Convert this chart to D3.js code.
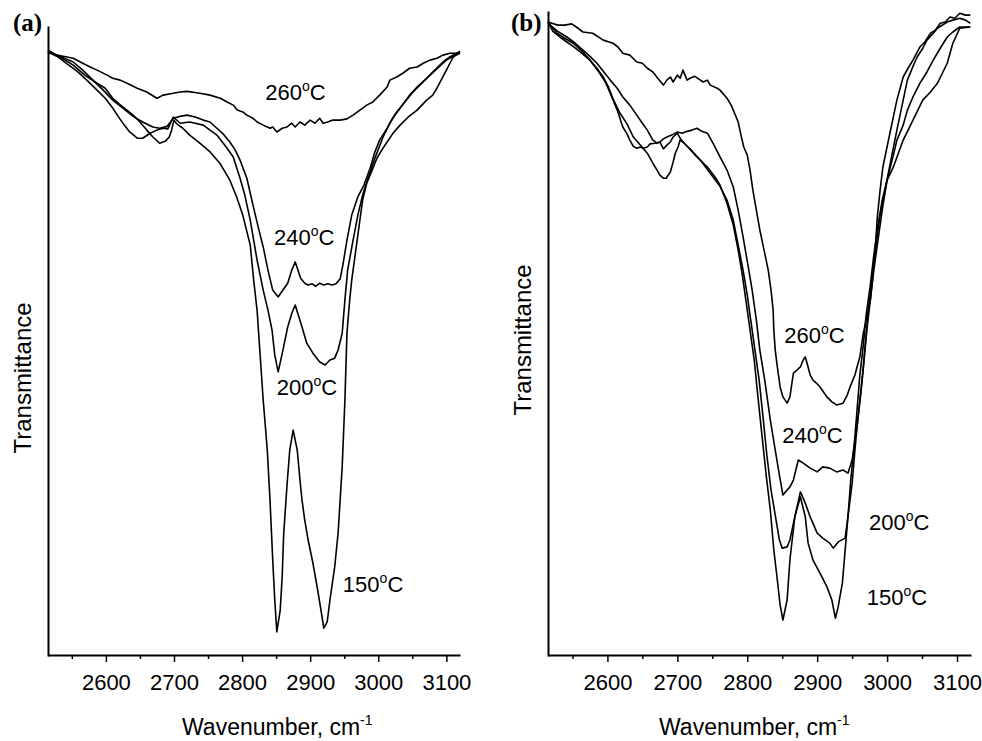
<!DOCTYPE html>
<meta charset="utf-8">

<script src="https://d3js.org/d3.v7.min.js"></script>

<div id="chart"></div>

<style>
body {
  margin: 0;
  background: #fff;
}
text {
  font-family: Arial, "Liberation Sans", sans-serif;
  fill: #000;
}
.spectrum {
  fill: none;
  stroke: #000;
  stroke-width: 1.6px;
  stroke-linejoin: round;
}
</style>

<script>

// spectra as [wavenumber (cm-1), transmittance (arb. units)]
// panel (a)
var a150 = [[2515,96.5],[2533,95.7],[2552,94.4],[2569,92.8],[2584,91.7],[2599,90.7],[2610,89.1],[2625,87.7],[2640,86.4],[2650,85.3],[2660,84.0],[2669,82.9],[2679,81.9],[2687,82.2],[2693,82.9],[2696,83.8],[2700,85.6],[2704,85.0],[2713,84.3],[2723,83.2],[2738,81.9],[2753,80.5],[2768,78.6],[2782,76.0],[2792,73.3],[2801,70.4],[2812,65.6],[2817,60.0],[2822,55.2],[2826,48.8],[2831,40.8],[2837,32.8],[2841,24.8],[2845,15.2],[2848,8.8],[2851,3.7],[2856,7.2],[2859,12.8],[2861,19.2],[2866,27.2],[2870,32.8],[2875,36.0],[2881,32.8],[2885,28.0],[2888,24.8],[2892,21.6],[2897,18.4],[2904,14.7],[2911,10.4],[2917,6.4],[2920,4.3],[2925,5.3],[2929,8.8],[2936,14.1],[2941,19.5],[2947,30.1],[2951,40.8],[2954,51.5],[2958,56.8],[2961,60.0],[2969,66.4],[2977,72.8],[2983,75.5],[2991,77.6],[2998,79.5],[3005,80.8],[3013,82.1],[3021,83.4],[3032,84.8],[3044,86.1],[3057,87.2],[3071,88.8],[3080,89.6],[3086,90.7],[3090,91.5],[3100,93.6],[3110,95.7],[3120,96.5]];

var a200 = [[2515,96.5],[2530,95.7],[2543,94.6],[2558,93.4],[2572,92.0],[2587,90.4],[2599,89.1],[2609,87.7],[2618,86.2],[2627,84.8],[2635,83.7],[2646,82.7],[2654,82.7],[2665,83.5],[2675,84.0],[2684,84.3],[2691,84.2],[2699,86.1],[2709,85.1],[2723,85.3],[2743,84.8],[2763,83.2],[2778,81.1],[2787,79.7],[2797,76.3],[2804,73.6],[2812,69.6],[2822,63.2],[2831,58.4],[2838,55.2],[2844,52.0],[2848,48.0],[2853,45.3],[2860,48.8],[2867,52.5],[2873,54.7],[2878,56.0],[2884,53.9],[2888,52.5],[2895,49.9],[2904,48.3],[2914,46.9],[2922,46.4],[2929,47.2],[2936,47.5],[2941,48.8],[2947,51.5],[2951,56.8],[2955,61.6],[2963,66.4],[2970,70.4],[2977,73.6],[2985,76.3],[2995,79.5],[3007,82.9],[3017,85.1],[3027,86.9],[3039,88.5],[3051,90.1],[3064,91.5],[3076,92.8],[3090,94.2],[3100,95.2],[3110,95.8],[3120,96.3]];

var a240 = [[2515,96.5],[2533,95.8],[2552,94.9],[2566,93.6],[2581,92.0],[2596,90.4],[2610,88.8],[2625,87.5],[2640,86.2],[2654,85.3],[2669,84.5],[2679,84.3],[2690,84.6],[2699,85.9],[2709,86.2],[2719,86.4],[2731,86.1],[2743,85.6],[2753,85.3],[2763,84.3],[2772,83.4],[2782,82.1],[2790,80.8],[2797,79.2],[2807,76.3],[2816,72.0],[2823,68.8],[2831,65.3],[2838,61.6],[2845,58.4],[2853,57.3],[2860,58.4],[2867,59.5],[2873,61.6],[2878,62.9],[2882,61.6],[2886,60.3],[2892,59.5],[2897,59.2],[2903,59.4],[2908,59.0],[2914,59.5],[2920,59.2],[2926,59.4],[2932,59.2],[2938,59.4],[2944,60.2],[2948,62.4],[2954,66.4],[2961,70.4],[2970,73.3],[2979,75.2],[2988,77.9],[2995,80.5],[3002,82.4],[3013,84.3],[3021,85.9],[3032,87.5],[3046,89.6],[3058,91.0],[3071,92.3],[3083,93.6],[3095,94.9],[3105,95.7],[3115,96.3],[3120,96.5]];

var a260 = [[2515,96.8],[2528,96.0],[2543,95.7],[2552,95.5],[2566,94.7],[2577,94.1],[2587,93.6],[2602,92.8],[2610,92.3],[2621,92.0],[2631,91.5],[2646,90.7],[2660,90.1],[2675,89.1],[2684,89.6],[2699,89.9],[2709,90.1],[2719,90.2],[2738,89.9],[2753,89.6],[2768,89.1],[2778,88.5],[2787,88.0],[2793,87.2],[2801,86.9],[2807,86.4],[2816,85.9],[2822,85.3],[2831,84.8],[2837,84.5],[2841,84.3],[2845,84.5],[2851,83.7],[2859,84.3],[2866,84.5],[2873,85.1],[2878,84.5],[2885,85.3],[2892,84.8],[2900,85.6],[2907,85.1],[2914,85.9],[2919,85.1],[2926,85.3],[2933,85.6],[2944,85.6],[2954,85.8],[2963,86.4],[2973,87.2],[2983,88.0],[2992,88.5],[3002,89.6],[3013,90.9],[3017,92.0],[3027,92.5],[3036,93.1],[3046,93.9],[3057,94.1],[3066,94.7],[3076,95.2],[3086,95.5],[3095,96.0],[3105,96.3],[3115,96.3],[3120,96.6]];

// panel (b)
var b150 = [[2515,101.3],[2522,99.8],[2532,98.9],[2542,98.1],[2551,97.4],[2561,96.5],[2575,95.2],[2585,93.9],[2594,92.5],[2601,91.0],[2608,89.0],[2618,86.7],[2628,85.0],[2637,82.9],[2647,81.6],[2657,80.3],[2665,78.7],[2671,77.6],[2675,76.8],[2680,76.3],[2684,76.3],[2690,77.3],[2694,78.9],[2697,80.3],[2701,81.3],[2704,82.4],[2708,82.1],[2715,81.3],[2728,79.7],[2743,78.1],[2757,76.0],[2761,75.2],[2771,72.3],[2780,68.8],[2787,64.8],[2793,60.8],[2798,56.8],[2804,52.0],[2810,47.2],[2815,41.6],[2821,35.2],[2827,28.8],[2833,23.2],[2838,16.8],[2843,12.0],[2847,8.0],[2851,5.6],[2857,8.8],[2861,15.2],[2868,22.1],[2876,25.3],[2883,22.1],[2887,17.9],[2894,15.2],[2904,13.1],[2914,10.9],[2921,8.8],[2926,5.9],[2930,7.7],[2936,11.5],[2940,16.8],[2944,22.1],[2948,28.0],[2953,33.6],[2957,39.2],[2961,44.8],[2966,49.6],[2970,54.4],[2976,59.2],[2981,64.0],[2987,68.8],[2993,72.8],[3000,76.0],[3009,78.1],[3023,82.4],[3037,85.6],[3051,88.8],[3062,90.1],[3072,91.5],[3079,93.1],[3086,94.7],[3094,97.9],[3104,100.3],[3119,100.5]];

var b200 = [[2515,101.3],[2522,100.3],[2528,99.5],[2539,98.7],[2551,97.9],[2564,96.6],[2575,95.2],[2589,93.1],[2597,91.7],[2604,89.9],[2614,87.2],[2622,84.5],[2628,83.4],[2632,82.4],[2637,81.4],[2642,81.1],[2647,81.3],[2651,81.1],[2657,81.3],[2661,81.8],[2668,81.9],[2675,82.1],[2680,81.0],[2685,81.6],[2690,82.1],[2694,82.9],[2700,83.5],[2704,82.7],[2708,82.1],[2718,81.0],[2733,79.2],[2747,77.1],[2761,75.0],[2771,72.8],[2780,69.6],[2787,65.6],[2794,61.6],[2800,57.6],[2805,53.6],[2811,48.8],[2817,44.0],[2823,37.6],[2828,32.0],[2834,26.4],[2840,22.4],[2846,18.4],[2850,17.1],[2857,17.3],[2861,18.4],[2868,22.1],[2876,26.1],[2883,24.3],[2890,22.1],[2900,19.5],[2908,18.7],[2918,17.9],[2923,17.1],[2930,18.1],[2940,18.7],[2944,22.1],[2950,27.5],[2954,32.8],[2958,37.6],[2963,42.4],[2967,47.2],[2971,52.0],[2976,56.8],[2981,61.6],[2987,66.4],[2993,71.2],[3000,76.0],[3009,80.0],[3014,82.4],[3023,84.8],[3029,87.2],[3037,89.3],[3047,91.5],[3057,93.3],[3066,95.2],[3076,97.1],[3086,98.9],[3094,99.7],[3104,100.5],[3119,100.5]];

var b240 = [[2515,101.3],[2518,100.8],[2529,99.8],[2542,98.9],[2554,97.9],[2565,96.8],[2575,95.8],[2585,94.7],[2594,93.4],[2604,92.0],[2614,90.7],[2622,89.3],[2632,88.0],[2642,86.4],[2650,85.1],[2657,84.0],[2665,82.4],[2671,81.9],[2675,82.1],[2680,82.6],[2685,82.9],[2692,83.2],[2700,83.7],[2707,83.5],[2714,83.8],[2721,84.0],[2728,84.3],[2735,83.8],[2743,83.5],[2751,81.9],[2761,79.7],[2771,77.6],[2780,74.9],[2787,71.2],[2794,66.9],[2801,62.4],[2807,58.4],[2813,53.6],[2818,48.8],[2825,44.0],[2833,37.6],[2840,32.8],[2846,28.8],[2851,25.6],[2857,26.4],[2861,26.9],[2866,28.0],[2873,31.2],[2880,30.7],[2890,29.9],[2900,29.3],[2908,30.1],[2918,29.9],[2928,29.3],[2937,29.6],[2944,29.1],[2950,31.2],[2954,34.4],[2957,36.5],[2961,40.8],[2966,46.1],[2970,51.2],[2974,56.0],[2979,60.8],[2984,65.6],[2990,70.4],[2997,74.4],[3004,78.4],[3014,84.0],[3023,88.8],[3029,92.0],[3037,94.2],[3043,95.7],[3051,97.1],[3057,98.4],[3066,99.5],[3072,100.3],[3086,101.3],[3094,101.6],[3104,101.9],[3112,101.6],[3119,101.1]];

var b260 = [[2515,101.3],[2529,100.8],[2539,100.8],[2549,101.0],[2558,100.3],[2565,99.7],[2579,99.5],[2594,98.4],[2608,97.9],[2615,97.3],[2622,96.3],[2632,96.0],[2642,94.9],[2650,94.7],[2657,93.9],[2665,93.3],[2672,92.3],[2680,91.2],[2685,92.0],[2690,92.5],[2694,91.7],[2700,92.8],[2704,92.3],[2708,93.6],[2714,92.0],[2718,92.3],[2725,92.6],[2733,92.0],[2737,91.7],[2743,92.0],[2747,91.2],[2757,90.7],[2761,90.4],[2771,89.1],[2777,88.0],[2783,86.4],[2787,85.3],[2791,83.2],[2795,81.3],[2800,80.0],[2804,77.6],[2808,74.4],[2813,71.2],[2818,68.0],[2824,64.8],[2830,61.6],[2834,58.4],[2837,55.2],[2838,52.0],[2840,48.8],[2843,46.1],[2847,42.9],[2851,41.3],[2857,40.3],[2861,41.3],[2866,45.1],[2871,45.6],[2876,46.1],[2880,47.2],[2883,47.7],[2887,46.1],[2890,44.8],[2894,44.0],[2900,43.4],[2904,42.9],[2914,41.3],[2921,40.5],[2928,40.0],[2937,40.3],[2943,41.6],[2947,42.9],[2954,44.8],[2957,46.1],[2961,47.7],[2966,51.5],[2971,54.1],[2976,56.8],[2979,60.0],[2983,64.8],[2986,70.1],[2990,74.4],[2994,78.1],[3004,83.5],[3014,88.8],[3023,92.5],[3030,93.9],[3037,95.2],[3047,97.3],[3054,98.1],[3062,99.5],[3069,100.0],[3076,101.1],[3083,101.3],[3090,102.1],[3097,101.9],[3104,102.7],[3112,102.4],[3119,102.4]];

// axis ticks
var majorTicks = [2600, 2700, 2800, 2900, 3000, 3100];
var minorTicks = [2550, 2650, 2750, 2850, 2950, 3050];

// curve labels, placed in data coordinates
var labelsA = [
  {name: "260", wn: 2834, tr: 88.8},
  {name: "240", wn: 2847, tr: 65.6},
  {name: "200", wn: 2851, tr: 41.6},
  {name: "150", wn: 2948, tr: 10.1}
];
var labelsB = [
  {name: "260", wn: 2853, tr: 49.9},
  {name: "240", wn: 2850, tr: 33.9},
  {name: "200", wn: 2974, tr: 20.0},
  {name: "150", wn: 2971, tr: 8.0}
];

var panels = [
  {tag: "(a)", series: [a150, a200, a240, a260], labels: labelsA,
   x0: 48, x1: 460, yTop: 27, yMax: 100.5, tagX: 13, ytX: 31, ytY: 378, xtX: 182},
  {tag: "(b)", series: [b150, b200, b240, b260], labels: labelsB,
   x0: 548, x1: 971, yTop: 12, yMax: 102.9, tagX: 511, ytX: 531, ytY: 340, xtX: 659}
];

var axisY = 655;

var svg = d3.select("#chart")
  .append("svg")
    .attr("width", 982)
    .attr("height", 741);

panels.forEach(function(p) {

  var x = d3.scaleLinear()
    .domain([2515, 3120])
    .range([p.x0, p.x1]);

  var y = d3.scaleLinear()
    .domain([0, p.yMax])
    .range([axisY, p.yTop]);

  var g = svg.append("g");

  // curves
  var line = d3.line()
    .x(function(d) { return x(d[0]); })
    .y(function(d) { return y(d[1]); });

  g.selectAll(".spectrum")
    .data(p.series)
    .enter()
    .append("path")
      .attr("class", "spectrum")
      .attr("d", line);

  // X axis, major + minor ticks
  var xAxis = g.append("g")
    .attr("transform", "translate(0," + axisY + ")")
    .call(d3.axisBottom(x)
      .tickValues(majorTicks)
      .tickFormat(d3.format("d"))
      .tickSizeInner(7)
      .tickSizeOuter(0)
      .tickPadding(12));
  xAxis.select(".domain").attr("stroke-width", 2);
  xAxis.selectAll(".tick line").attr("stroke-width", 1.5);
  xAxis.selectAll(".tick text")
    .style("font-size", "22px")
    .attr("font-family", null);

  var xMinor = g.append("g")
    .attr("transform", "translate(0," + axisY + ")")
    .call(d3.axisBottom(x).tickValues(minorTicks).tickSize(4).tickFormat(""));
  xMinor.select(".domain").remove();
  xMinor.selectAll(".tick line").attr("stroke-width", 1.5);

  // Y axis, line only
  var yAxis = g.append("g")
    .attr("transform", "translate(" + p.x0 + ",0)")
    .call(d3.axisLeft(y).tickValues([]).tickSizeOuter(0));
  yAxis.select(".domain").attr("stroke-width", 2).attr("stroke-linecap", "square");

  // curve labels with degree sign as raised "o"
  g.selectAll(".temp")
    .data(p.labels)
    .enter()
    .append("text")
      .attr("class", "temp")
      .attr("x", function(d) { return x(d.wn); })
      .attr("y", function(d) { return y(d.tr); })
      .style("font-size", "22px")
      .each(function(d) {
        var t = d3.select(this);
        t.append("tspan").text(d.name);
        t.append("tspan").attr("dy", -9).style("font-size", "14px").text("o");
        t.append("tspan").attr("dy", 9).text("C");
      });

  // axis titles
  var xt = g.append("text")
    .attr("x", p.xtX)
    .attr("y", 735)
    .style("font-size", "23px");
  xt.append("tspan").text("Wavenumber, cm");
  xt.append("tspan").attr("dy", -10).style("font-size", "14px").text("-1");

  g.append("text")
    .attr("transform", "translate(" + p.ytX + "," + p.ytY + ") rotate(-90)")
    .attr("text-anchor", "middle")
    .style("font-size", "24px")
    .text("Transmittance");

  // panel tag
  g.append("text")
    .attr("x", p.tagX)
    .attr("y", 31)
    .style("font-family", "'Times New Roman', 'Liberation Serif', serif")
    .style("font-weight", "bold")
    .style("font-size", "25px")
    .text(p.tag);
});

</script>
